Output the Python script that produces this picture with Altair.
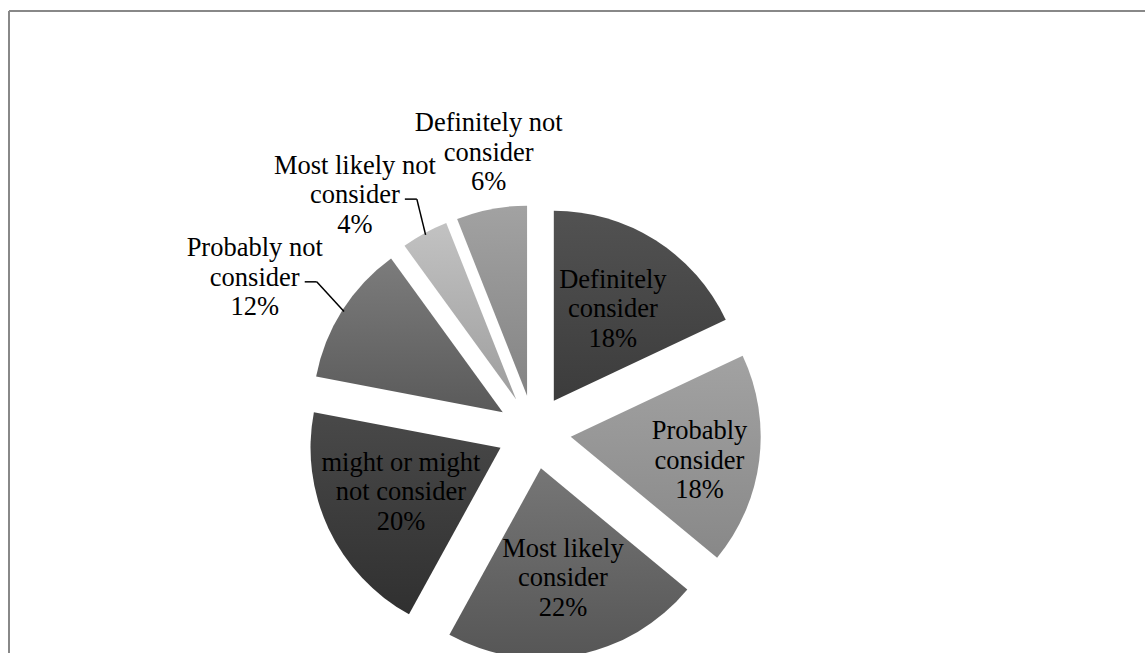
import altair as alt
import pandas as pd

# ---- data ----
categories = [
    "Definitely consider",
    "Probably consider",
    "Most likely consider",
    "might or might not consider",
    "Probably not consider",
    "Most likely not consider",
    "Definitely not consider",
]
values = [18, 18, 22, 20, 12, 4, 6]
label_lines = [
    ["Definitely", "consider"],
    ["Probably", "consider"],
    ["Most likely", "consider"],
    ["might or might", "not consider"],
    ["Probably not", "consider"],
    ["Most likely not", "consider"],
    ["Definitely not", "consider"],
]

# ---- styles / layout ----
fill_top = ["#525252", "#a2a2a2", "#767676", "#494949", "#7c7c7c", "#c2c2c2", "#a2a2a2"]
fill_bottom = ["#3c3c3c", "#888888", "#565656", "#303030", "#5a5a5a", "#9e9e9e", "#848484"]
label_radius = [146, 168, 149, 146, 319, 297, 283]   # distance of label centre from pie centre
label_turn = [0.3, 2.7, -0.4, 0.9, -3.5, -8.3, 1.6]  # degrees nudged from slice mid-angle
has_leader = [False, False, False, False, True, True, False]

W, H = 1145, 653
CX, CY = 534, 432      # pie centre
R = 190                # radius
D = 37                 # explode distance
FONT = "Liberation Serif"
FS = 26.5
LH = 29.5

df = pd.DataFrame({
    "category": categories,
    "value": values,
    "name": ["\n".join(l) for l in label_lines],
    "order": list(range(len(categories))),
    "lr": label_radius,
    "lda": label_turn,
    "leader": has_leader,
})

base = (
    alt.Chart(df)
    .transform_window(cum="sum(value)", sort=[alt.SortField("order", order="ascending")], frame=[None, 0])
    .transform_joinaggregate(total="sum(value)")
    .transform_calculate(t0="2*PI*(datum.cum-datum.value)/datum.total")
    .transform_calculate(t1="2*PI*datum.cum/datum.total")
    .transform_calculate(mid="(datum.t0+datum.t1)/2")
    .transform_calculate(cx=f"{CX}+{D}*sin(datum.mid)")
    .transform_calculate(cy=f"{CY}-{D}*cos(datum.mid)")
    .transform_calculate(la="datum.mid+datum.lda*PI/180")
    .transform_calculate(lx=f"{CX}+datum.lr*sin(datum.la)")
    .transform_calculate(ly=f"{CY}-datum.lr*cos(datum.la)")
    .transform_calculate(ty=f"datum.ly-{LH}")
    .transform_calculate(ex=f"{CX}+{D + R - 2}*sin(datum.mid)")
    .transform_calculate(ey=f"{CY}-{D + R - 2}*cos(datum.mid)")
    .transform_calculate(label="datum.name+'\\n'+datum.value+'%'")
)

X = lambda f: alt.X(f, type="quantitative", scale=None, axis=None)
Y = lambda f: alt.Y(f, type="quantitative", scale=None, axis=None)

slices = []
for i in range(len(categories)):
    grad = alt.Gradient(
        gradient="linear",
        stops=[alt.GradientStop(color=fill_top[i], offset=0),
               alt.GradientStop(color=fill_bottom[i], offset=1)],
        x1=0, y1=0, x2=0, y2=1,
    )
    slices.append(
        base.transform_filter(f"datum.order == {i}")
        .mark_arc(radius=R, fill=grad)
        .encode(
            x=X("cx"), y=Y("cy"),
            theta=alt.Theta("t0:Q", scale=None, stack=None),
            theta2=alt.Theta2("t1:Q"),
        )
    )

leaders_base = (
    base.transform_filter("datum.leader")
    .transform_calculate(sx="datum.lx+50")
    .transform_calculate(kx="datum.lx+62")
    .transform_calculate(sy="datum.ly+4")
)
leader1 = leaders_base.mark_rule(color="black", strokeWidth=1.5).encode(
    x=X("sx"), x2=alt.X2("kx:Q"), y=Y("sy"), y2=alt.Y2("sy:Q")
)
leader2 = leaders_base.mark_rule(color="black", strokeWidth=1.5).encode(
    x=X("kx"), x2=alt.X2("ex:Q"), y=Y("sy"), y2=alt.Y2("ey:Q")
)

labels = base.mark_text(
    font=FONT, fontSize=FS, lineBreak="\n", align="center",
    baseline="middle", lineHeight=LH, color="black",
).encode(x=X("lx"), y=Y("ty"), text="label:N")

frame_src = alt.Data(values=[{"k": 0}])
border_left = alt.Chart(frame_src).mark_rule(color="#888888", strokeWidth=2).encode(
    x=alt.value(9), y=alt.value(11), y2=alt.value(H)
)
border_top = alt.Chart(frame_src).mark_rule(color="#888888", strokeWidth=2).encode(
    x=alt.value(9), x2=alt.value(W), y=alt.value(11)
)

chart = (
    alt.layer(border_left, border_top, *slices, leader1, leader2, labels)
    .properties(width=W, height=H, autosize="none", padding=0, background="white")
    .configure_view(stroke=None)
)

chart.save("out.html", embed_options={"renderer": "svg", "actions": False})
